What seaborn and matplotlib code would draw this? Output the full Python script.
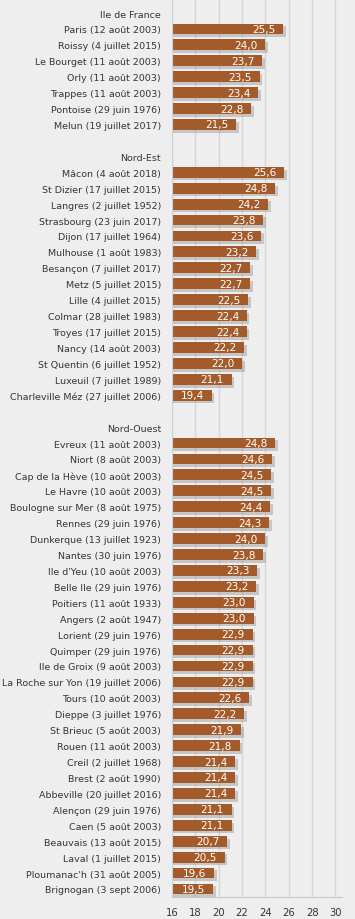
import matplotlib
matplotlib.use("Agg")
import matplotlib.pyplot as plt
import matplotlib.patheffects as pe
import pandas as pd
import seaborn as sns

# records de température minimale (nuit la plus chaude) par station
regions = ["Ile de France", "Nord-Est", "Nord-Ouest"]

idf_labels = ["Paris (12 août 2003)", "Roissy (4 juillet 2015)", "Le Bourget (11 août 2003)",
              "Orly (11 août 2003)", "Trappes (11 août 2003)", "Pontoise (29 juin 1976)",
              "Melun (19 juillet 2017)"]
idf_values = [25.5, 24.0, 23.7, 23.5, 23.4, 22.8, 21.5]

ne_labels = ["Mâcon (4 août 2018)", "St Dizier (17 juillet 2015)", "Langres (2 juillet 1952)",
             "Strasbourg (23 juin 2017)", "Dijon (17 juillet 1964)", "Mulhouse (1 août 1983)",
             "Besançon (7 juillet 2017)", "Metz (5 juillet 2015)", "Lille (4 juillet 2015)",
             "Colmar (28 juillet 1983)", "Troyes (17 juillet 2015)", "Nancy (14 août 2003)",
             "St Quentin (6 juillet 1952)", "Luxeuil (7 juillet 1989)",
             "Charleville Méz (27 juillet 2006)"]
ne_values = [25.6, 24.8, 24.2, 23.8, 23.6, 23.2, 22.7, 22.7, 22.5, 22.4, 22.4, 22.2, 22.0, 21.1, 19.4]

no_labels = ["Evreux (11 août 2003)", "Niort (8 août 2003)", "Cap de la Hève (10 août 2003)",
             "Le Havre (10 août 2003)", "Boulogne sur Mer (8 août 1975)", "Rennes (29 juin 1976)",
             "Dunkerque (13 juillet 1923)", "Nantes (30 juin 1976)", "Ile d'Yeu (10 août 2003)",
             "Belle Ile (29 juin 1976)", "Poitiers (11 août 1933)", "Angers (2 août 1947)",
             "Lorient (29 juin 1976)", "Quimper (29 juin 1976)", "Ile de Groix (9 août 2003)",
             "La Roche sur Yon (19 juillet 2006)", "Tours (10 août 2003)", "Dieppe (3 juillet 1976)",
             "St Brieuc (5 août 2003)", "Rouen (11 août 2003)", "Creil (2 juillet 1968)",
             "Brest (2 août 1990)", "Abbeville (20 juillet 2016)", "Alençon (29 juin 1976)",
             "Caen (5 août 2003)", "Beauvais (13 août 2015)", "Laval (1 juillet 2015)",
             "Ploumanac'h (31 août 2005)", "Brignogan (3 sept 2006)"]
no_values = [24.8, 24.6, 24.5, 24.5, 24.4, 24.3, 24.0, 23.8, 23.3, 23.2, 23.0, 23.0, 22.9, 22.9,
             22.9, 22.9, 22.6, 22.2, 21.9, 21.8, 21.4, 21.4, 21.4, 21.1, 21.1, 20.7, 20.5, 19.6, 19.5]

x_ticks = [16, 18, 20, 22, 24, 26, 28, 30]

# ordre des lignes : titre de région, stations, ligne vide
order = []
rows = []
groups = [(idf_labels, idf_values), (ne_labels, ne_values), (no_labels, no_values)]
for k, (labs, vals) in enumerate(groups):
    if k > 0:
        order.append(" " * k)
    order.append(regions[k])
    for lab, v in zip(labs, vals):
        order.append(lab)
        rows.append({"station": lab, "temp": v})
df = pd.DataFrame(rows)

bg = "#eeeeee"
txt = "#33343f"
bar_col = "#a35b2b"

sns.set_style("whitegrid")
fig = plt.figure(figsize=(3.55, 9.2), dpi=100, facecolor=bg)
ax = fig.add_axes([0.4845, 0.024, 0.4785, 0.976])
ax.set_facecolor(bg)

sns.barplot(data=df, x="temp", y="station", order=order, orient="h",
            color=bar_col, saturation=1, width=0.68, ax=ax)

for p in ax.patches:
    p.set_edgecolor("none")
    p.set_path_effects([pe.SimplePatchShadow(offset=(2, -2), shadow_rgbFace="#8a8a8a", alpha=0.4),
                        pe.Normal()])

pos = {lab: i for i, lab in enumerate(order)}
for lab, v in zip(df["station"], df["temp"]):
    ax.text(v - 0.65, pos[lab], f"{v:.1f}".replace(".", ","), ha="right", va="center",
            color="white", fontsize=7.6)

ax.set_xlim(16, 30.55)
ax.set_ylim(len(order) - 0.5, -0.88)
ax.set_xticks(x_ticks)
ax.set_xlabel("")
ax.set_ylabel("")
ax.grid(axis="x", color="#d6d6d6", linewidth=1)
ax.grid(axis="y", visible=False)
for s in ["top", "right"]:
    ax.spines[s].set_visible(False)
ax.spines["left"].set_color("#d0d0d0")
ax.spines["bottom"].set_color("#c8c8c8")
ax.tick_params(axis="y", length=0, pad=8, labelsize=6.8, labelcolor=txt)
ax.tick_params(axis="x", length=3, color="#c8c8c8", pad=4, labelsize=7.2, labelcolor=txt)

fig.savefig("out.png", dpi=100, facecolor=bg)
